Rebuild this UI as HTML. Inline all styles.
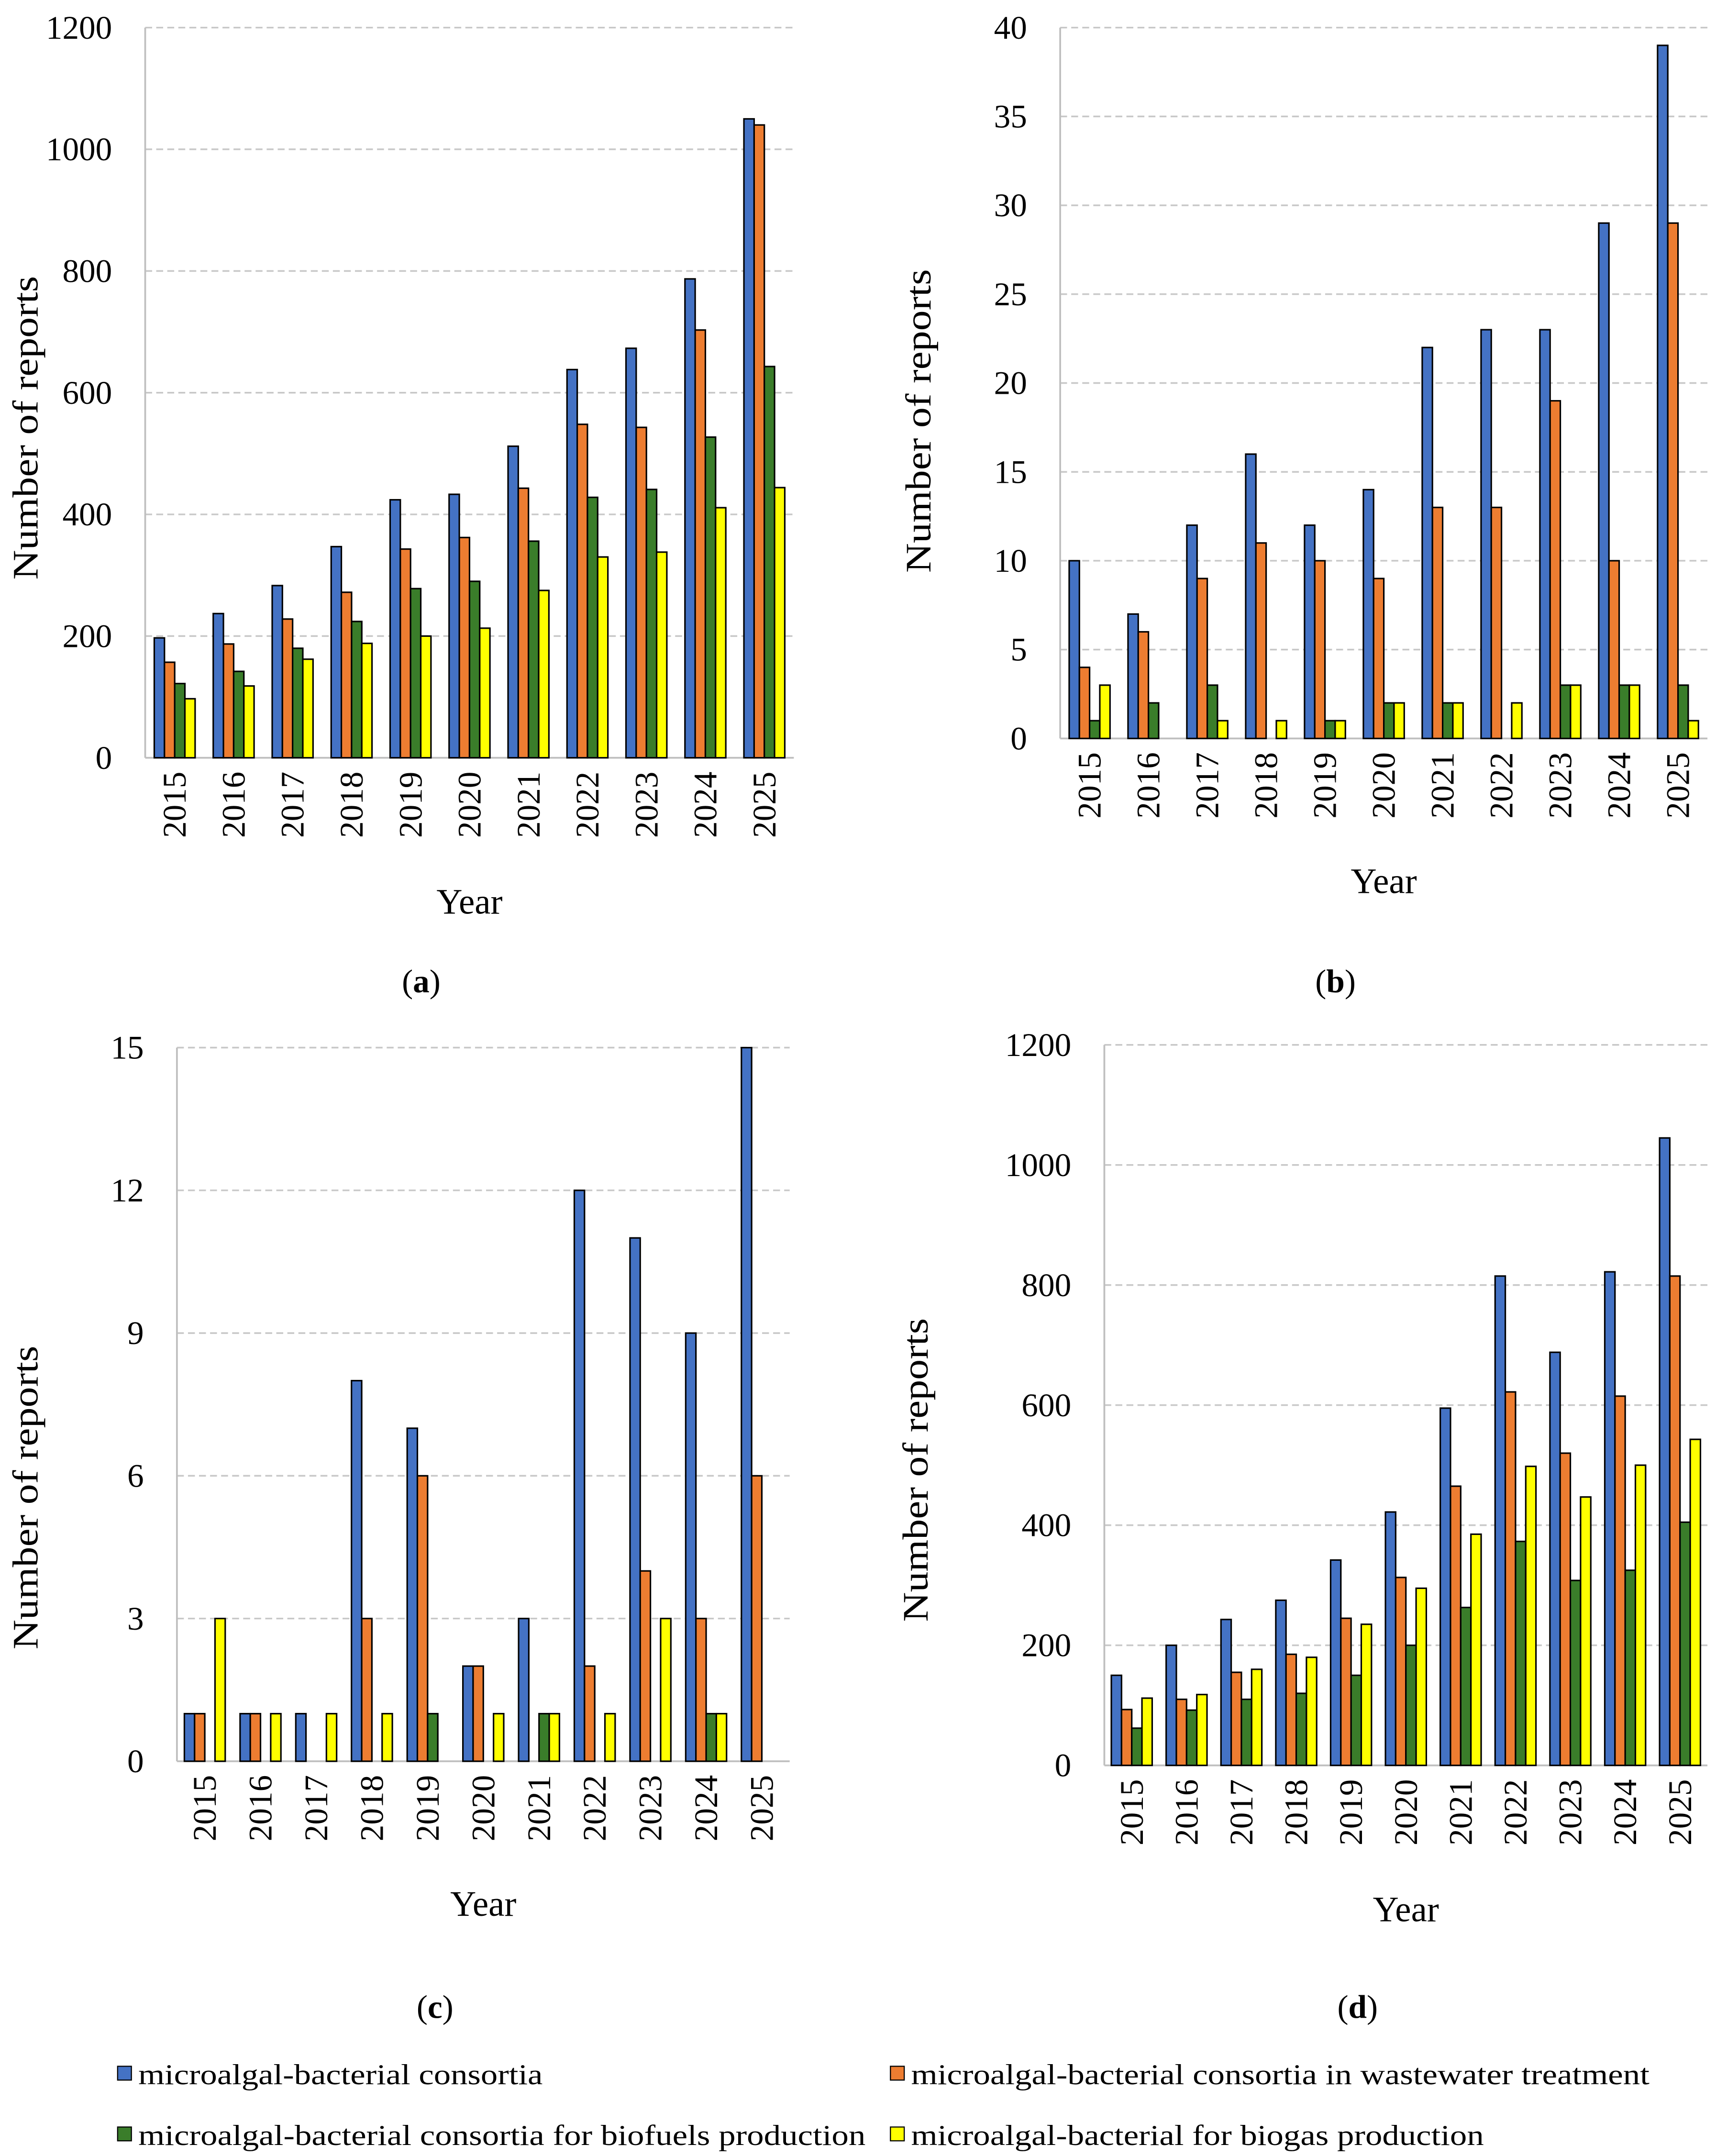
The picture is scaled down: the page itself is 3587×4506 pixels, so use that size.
<!DOCTYPE html>
<html><head><meta charset="utf-8"><style>
html,body{margin:0;padding:0;background:#fff}
svg{display:block}
text{font-family:"Liberation Serif","Times New Roman",serif;fill:#000}
</style></head><body>
<svg id="fig" width="3587" height="4506" viewBox="0 0 1243 1562" xmlns="http://www.w3.org/2000/svg" font-family="Liberation Serif, serif">
<rect width="1243" height="1562" fill="#fff"/>
<g id="legend">
<g><rect x="85" y="1497" width="10" height="10" fill="#4472C4" stroke="#000" stroke-width="0.8"/><text x="100" y="1510" font-size="21" textLength="293" lengthAdjust="spacingAndGlyphs">microalgal-bacterial consortia</text></g>
<g><rect x="645" y="1497" width="10" height="10" fill="#ED7D31" stroke="#000" stroke-width="0.8"/><text x="660" y="1510" font-size="21" textLength="535" lengthAdjust="spacingAndGlyphs">microalgal-bacterial consortia in wastewater treatment</text></g>
<g><rect x="85" y="1541" width="10" height="10" fill="#3A7D2A" stroke="#000" stroke-width="0.8"/><text x="100" y="1554" font-size="21" textLength="527" lengthAdjust="spacingAndGlyphs">microalgal-bacterial consortia for biofuels production</text></g>
<g><rect x="645" y="1541" width="10" height="10" fill="#FFFF00" stroke="#000" stroke-width="0.8"/><text x="660" y="1554" font-size="21" textLength="415" lengthAdjust="spacingAndGlyphs">microalgal-bacterial for biogas production</text></g>
</g>
</svg>
<script>
const years = ["2015","2016","2017","2018","2019","2020","2021","2022","2023","2024","2025"];
const seriesColors = ["#4472C4","#ED7D31","#3A7D2A","#FFFF00"];
const aBlue = [197,237,283,347,424,433,512,638,673,787,1050];
const aOrange = [157,187,228,272,343,362,443,548,543,703,1040];
const aGreen = [122,142,180,224,278,290,356,428,441,527,643];
const aYellow = [97,118,162,188,200,213,275,330,338,411,444];
const aTicks = [0,200,400,600,800,1000,1200];
const bBlue = [10,7,12,16,12,14,22,23,23,29,39];
const bOrange = [4,6,9,11,10,9,13,13,19,10,29];
const bGreen = [1,2,3,0,1,2,2,0,3,3,3];
const bYellow = [3,0,1,1,1,2,2,2,3,3,1];
const bTicks = [0,5,10,15,20,25,30,35,40];
const cBlue = [1,1,1,8,7,2,3,12,11,9,15];
const cOrange = [1,1,0,3,6,2,0,2,4,3,6];
const cGreen = [0,0,0,0,1,0,1,0,0,1,0];
const cYellow = [3,1,1,1,0,1,1,1,3,1,0];
const cTicks = [0,3,6,9,12,15];
const dBlue = [150,200,243,275,342,422,595,815,688,822,1045];
const dOrange = [93,110,155,185,245,313,465,622,520,615,815];
const dGreen = [62,92,110,120,150,200,263,373,308,325,405];
const dYellow = [112,118,160,180,235,295,385,498,447,500,543];
const dTicks = [0,200,400,600,800,1000,1200];

const NS="http://www.w3.org/2000/svg";
const svg=document.getElementById('fig');
function el(tag,attrs,parent){const e=document.createElementNS(NS,tag);for(const k in attrs)e.setAttribute(k,attrs[k]);(parent||svg).appendChild(e);return e;}

function panel(id,letter,L,T,R,B,ticks,series,titleX,titleY,yearY,labelY){
  const g=el('g',{});
  
  
  const maxV=ticks[ticks.length-1];
  const y=v=>B-(v/maxV)*(B-T);
  const cw=(R-L)/years.length;
  const x=i=>L+cw*i+cw/2;
  ticks.forEach(t=>{
    if(t>0){const ln=el('line',{x1:L,x2:R,y1:y(t),y2:y(t),stroke:'#c8c8c8','stroke-width':1.2,'stroke-dasharray':'5,3'},g);
      
      }
    const tx=el('text',{x:L-24,y:y(t)+8,'font-size':24,'text-anchor':'end'},g);
    
    
    tx.textContent=t;
  });
  el('line',{x1:L,x2:L,y1:T,y2:B,stroke:'#bfbfbf','stroke-width':1.3},g);
  el('line',{x1:L,x2:R,y1:B,y2:B,stroke:'#bfbfbf','stroke-width':1.3},g);
  const bw=7.4;
  series.forEach((arr,s)=>{
    arr.forEach((v,i)=>{
      if(v<=0)return;
      const bx=x(i)-2*bw+s*bw;
      const r=el('rect',{x:bx,y:y(v),width:bw,height:B-y(v),fill:seriesColors[s],stroke:'#000','stroke-width':1.1},g);
      
      
    });
  });
  years.forEach((yr,i)=>{
    const t=el('text',{x:0,y:0,'font-size':24,'text-anchor':'end',transform:`translate(${x(i)+8},${B+10}) rotate(-90)`},g);
    
    
    t.textContent=yr;
  });
  const yt=el('text',{x:0,y:0,'font-size':26,'text-anchor':'middle',textLength:220,lengthAdjust:'spacingAndGlyphs',transform:`translate(${titleX},${titleY}) rotate(-90)`},g);
  
  
  yt.textContent='Number of reports';
  const xt=el('text',{x:(L+R)/2,y:yearY,'font-size':26,'text-anchor':'middle'},g);
  
  
  xt.textContent='Year';
  const lb=el('text',{x:(L+R)/2-35,y:labelY,'font-size':24,'text-anchor':'middle'},g);
  
  
  lb.innerHTML='(<tspan font-weight="bold">'+letter+'</tspan>)';
}
panel('a','a',105,20,575,549,aTicks,[aBlue,aOrange,aGreen,aYellow],27,310,662,719);
panel('b','b',768,20,1237,535,bTicks,[bBlue,bOrange,bGreen,bYellow],674,305,647,719);
panel('c','c',128,759,572,1276,cTicks,[cBlue,cOrange,cGreen,cYellow],27,1085,1388,1462);
panel('d','d',800,757,1237,1279,dTicks,[dBlue,dOrange,dGreen,dYellow],672,1065,1392,1462);
</script>
</body></html>
